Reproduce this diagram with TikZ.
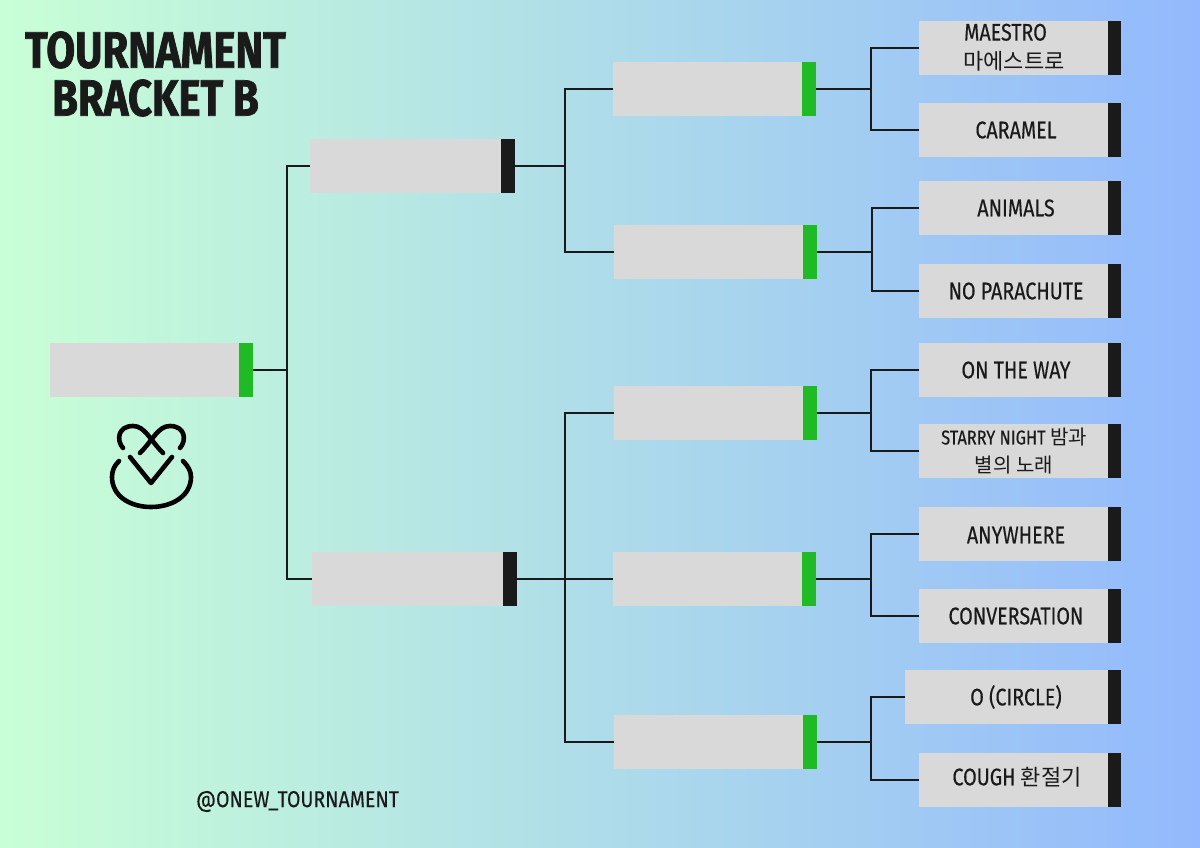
\documentclass[tikz,border=0pt]{standalone}
\usepackage{fontspec}
\setmainfont{Fira Sans}
\newfontfamily\labelfont[FakeStretch=0.82,FakeBold=0.3]{Fira Sans}
\newfontfamily\handlefont[FakeStretch=0.85,FakeBold=0.2]{Fira Sans}
\newfontfamily\titlefont[FakeStretch=0.82,FakeBold=1.4]{Fira Sans Bold}
\newfontfamily\krfont{Noto Sans CJK KR}
\usetikzlibrary{positioning}
\definecolor{slotgrey}{HTML}{D9D9D9}
\definecolor{tabblack}{HTML}{1A1A1A}
\definecolor{tabgreen}{HTML}{1FBB25}
\tikzset{
	slot/.style={rectangle, fill=slotgrey, anchor=east, minimum width=189pt, minimum height=54pt, inner sep=0pt, outer sep=0pt},
	tab/.style={rectangle, fill=tabblack, minimum width=14pt, minimum height=54pt, inner sep=0pt, outer sep=0pt},
	wintab/.style={tab, fill=tabgreen},
	wire/.style={draw=tabblack, line width=2.2pt},
	logoline/.style={draw=black, line width=4.6pt, line cap=round, line join=round},
	song/.style={inner sep=0pt, text=tabblack, font=\labelfont\fontsize{24}{28}\selectfont, align=center}
}
\newcommand{\kr}[1]{{\krfont\fontsize{22}{28}\selectfont #1}}

\begin{document}
\begin{tikzpicture}[x=1pt, y=-1pt]
	\shade[left color={rgb,255:red,201;green,255;blue,214}, middle color={rgb,255:red,176;green,218;blue,235}, right color={rgb,255:red,147;green,185;blue,253}]
		(0,0) rectangle (1200,848);

	% final and semi finals
	\node[slot] (final) at (239,370) {};
	\node[wintab, right=0pt of final] (finalTab) {};
	\node[slot, minimum width=191pt] (semiA) at (501,166) {};
	\node[tab, right=0pt of semiA] (semiATab) {};
	\node[slot, minimum width=191pt] (semiB) at (503,579) {};
	\node[tab, right=0pt of semiB] (semiBTab) {};

	% quarter finals
	\foreach \nm/\ex/\cy in {quartA/802/89, quartB/803/252, quartC/803/413, quartD/802/579, quartE/803/742} {
		\node[slot] (\nm) at (\ex,\cy) {};
		\node[wintab, right=0pt of \nm] (\nm Tab) {};
	}

	% songs
	\foreach \nm/\cy in {maestro/48, caramel/130, animals/208, parachute/291, way/370, starry/451, anywhere/534, conversation/616, cough/780} {
		\node[slot] (\nm) at (1108,\cy) {};
		\node[tab, minimum width=13pt, right=0pt of \nm] (\nm Tab) {};
	}
	\node[slot, minimum width=203pt] (circle) at (1108,697) {};
	\node[tab, minimum width=13pt, right=0pt of circle] (circleTab) {};

	\node[song] (maestroText) at (1014,47.5) {MAESTRO\hspace{17pt}\mbox{}\\[1pt]\kr{마에스트로}};
	\node[song] (caramelText) at (1016,130) {CARAMEL};
	\node[song] (animalsText) at (1016,208) {ANIMALS};
	\node[song] (parachuteText) at (1016,291) {NO PARACHUTE};
	\node[song] (wayText) at (1016,370) {ON THE WAY};
	\node[song, font=\labelfont\fontsize{20}{28}\selectfont] (starryText) at (1014,451) {STARRY NIGHT {\krfont\fontsize{20}{28}\selectfont 밤과}\\{\krfont\fontsize{20}{28}\selectfont 별의 노래}};
	\node[song] (anywhereText) at (1016,535) {ANYWHERE};
	\node[song] (conversationText) at (1016,616) {CONVERSATION};
	\node[song] (circleText) at (1016,697) {O (CIRCLE)};
	\node[song] (coughText) at (1017,777) {COUGH \kr{환절기}};

	% joints
	\coordinate (finalJoint) at (287,370);
	\coordinate (semiAJoint) at (565,166);
	\coordinate (semiBJoint) at (565,579);
	\coordinate (quartAJoint) at (871,89);
	\coordinate (quartBJoint) at (872,252);
	\coordinate (quartCJoint) at (871,413);
	\coordinate (quartDJoint) at (871,579);
	\coordinate (quartEJoint) at (871,742);

	\draw[wire] (finalTab.east) -- (finalJoint);
	\draw[wire] (semiA.west) -| (finalJoint);
	\draw[wire] (semiB.west) -| (finalJoint);
	\draw[wire] (semiATab.east) -- (semiAJoint);
	\draw[wire] (quartA.west) -| (semiAJoint);
	\draw[wire] (quartB.west) -| (semiAJoint);
	\draw[wire] (semiBTab.east) -- (semiBJoint);
	\draw[wire] (quartC.west) -| (semiBJoint);
	\draw[wire] (quartD.west) -- (semiBJoint);
	\draw[wire] (quartE.west) -| (semiBJoint);
	\foreach \qf/\up/\down in {quartA/maestro/caramel, quartB/animals/parachute, quartC/way/starry, quartD/anywhere/conversation, quartE/circle/cough} {
		\draw[wire] (\qf Tab.east) -- (\qf Joint);
		\draw[wire] (\up.west) -| (\qf Joint);
		\draw[wire] (\down.west) -| (\qf Joint);
	}

	% title and handle
	\node[inner sep=0pt, align=center, text=tabblack, font=\titlefont\fontsize{51}{48}\selectfont] (title) at (155.5,74) {TOURNAMENT\\BRACKET B};
	\node[inner sep=0pt, text=tabblack, font=\handlefont\fontsize{23}{28}\selectfont] (handle) at (297.5,801.5) {@ONEW\_TOURNAMENT};

	% logo
	\draw[logoline] (123,448) .. controls (116,440) and (118,426) .. (133,426) .. controls (145,426) and (150,440) .. (163,453);
	\draw[logoline] (180,448) .. controls (187,440) and (185,426) .. (170,426) .. controls (158,426) and (153,440) .. (140,453);
	\draw[logoline] (130,457) -- (151,483) -- (172,457);
	\draw[logoline] (119,461) .. controls (114,466) and (112,471) .. (112,477) .. controls (112,496) and (130,507) .. (151,507) .. controls (172,507) and (191,496) .. (191,477) .. controls (191,471) and (188,466) .. (183,461);
\end{tikzpicture}
\end{document}
